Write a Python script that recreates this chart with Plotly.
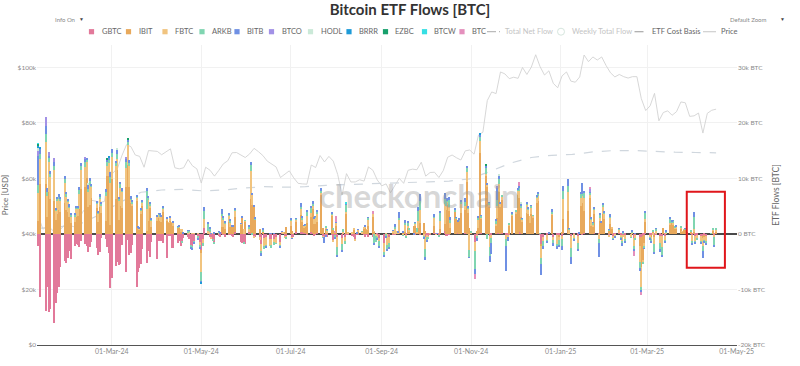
import pandas as pd
import plotly.graph_objects as go

# ---------------- data (flows in thousands of BTC, prices in thousands of USD) ----------------
HOLIDAYS = ["2024-01-15", "2024-02-19", "2024-03-29", "2024-05-27", "2024-06-19", "2024-07-04",
            "2024-09-02", "2024-11-28", "2024-12-25", "2025-01-01", "2025-01-09", "2025-01-20",
            "2025-02-17"]
FIRST_DAY, LAST_DAY = "2024-01-11", "2025-04-17"

FUNDS = ["GBTC", "IBIT", "FBTC", "ARKB", "BITB", "BTCO", "HODL", "BRRR", "EZBC", "BTCW", "BTC"]
COLORS = {"GBTC": "#e2799a", "IBIT": "#e8a95c", "FBTC": "#f1c47f", "ARKB": "#80d5b1",
          "BITB": "#6f90e4", "BTCO": "#a291e6", "HODL": "#cbe9d8", "BRRR": "#1e9bd8",
          "EZBC": "#18a06c", "BTCW": "#36dfe4", "BTC": "#e490bd"}

GBTC = {
    "2024-01": [-2.2, -11.3, -13.8, -9.5, -14.0, -13.6, -16.1, -12.4, -10.7, -9.6, -6.0, -4.8, -5.2, -4.4],
    "2024-02": [-3.0, -4.5, -2.1, -1.8, -2.0, -2.4, -1.2, -1.9, -2.1, -3.2, -2.3, -1.4, -2.5, -3.8, -3.2, -0.8, -0.9, -2.4, -3.4, -9.7],
    "2024-03": [-8.0, -5.7, -5.1, -5.6, -5.5, -2.0, -6.8, -1.1, -3.8, -3.5, -2.0, -9.5, -6.8, -6.1, -5.4, -2.7, -5.3, -3.0, -4.2, -1.5],
    "2024-04": [-4.5, -1.2, -1.1, -1.2, -1.6, -4.3, -0.3, -0.3, -2.6, -2.5, -1.7, -1.2, -2.1, -1.4, -0.7, -0.5, -1.0, -2.0, -2.2, -1.3, -0.4, -1.5],
    "2024-05": [-2.9, -0.9, 1.0, 0.0, -0.5, -0.7, -1.0, -1.5, -0.4, -0.6, 0.4, -0.1, -0.5, -0.2, -0.2, -0.3, -0.6, 0.4, -1.4, -1.6, -1.6, -1.8],
    "2024-06": [0.4, 0.1, 0.2, -0.5, -0.5, -0.6, -1.8, 0.0, -0.7, -0.6, -0.9, -1.0, -0.9, -0.5, -1.4, 0.2, 0.0, -0.3, -0.5],
    "2024-07": [0.0, -0.6, -0.5, 0.3, 0.4, 0.3, 0.2, 0.1, -0.1, 0.4, 0.1, -0.3, -0.1, 0.1, 0.0, -0.5, -0.5, -0.3, -0.5, -0.1, -1.1, -0.2],
    "2024-08": [0.0, -0.6, -0.8, 0.0, -0.5, -0.1, -0.1, -0.4, -0.5, -0.9, -0.1, -0.2, 0.0, -0.1, -0.6, -0.2, -0.6, -0.6, 0.0, 0.0, -0.3, -0.8],
    "2024-09": [-1.7, -0.1, 0.0, -0.5, -0.1, -0.1, 0.0, 0.0, 0.2, -0.1, 0.0, -0.2, 0.0, 0.0, 0.0, -0.2, 0.0, 0.0, -0.1, -0.1],
    "2024-10": [-0.6, -0.2, -0.3, -0.1, 0.1, -0.1, 0.0, -0.2, 0.0, 0.6, -0.3, -0.3, -0.1, 0.0, 0.0, 0.0, 0.1, 0.0, 0.0, 0.1, 0.0, 0.1, 0.0],
    "2024-11": [0.0, -1.5, -0.2, 0.0, 0.1, 0.1, 0.0, 0.0, 0.0, -0.3, -0.2, 0.0, 0.2, 0.2, 0.0, 0.1, -0.2, -0.2, -0.1, 0.0],
    "2024-12": [0.0, 0.0, 0.4, 0.1, 0.0, 0.0, 0.0, 0.0, 0.0, 0.0, 0.0, 0.0, -0.2, -1.9, -0.5, -0.2, 0.0, 0.0, -0.6, -0.2, -0.3],
    "2025-01": [-0.4, 0.1, 0.0, 0.0, -0.4, -0.1, -0.3, 0.0, 0.0, -0.2, 0.2, 0.0, 0.0, 0.0, 0.2, -0.1, 0.0, 0.0, 0.0, 0.0],
    "2025-02": [-0.2, 0.2, 0.0, -0.3, -0.1, 0.2, -0.2, -0.3, -0.2, -0.2, 0.0, 0.0, -0.7, -0.2, -0.5, -0.6, -0.3, -0.2, 0.2],
    "2025-03": [-0.2, -0.3, 0.0, -0.3, -0.2, -0.3, -0.4, 0.0, -0.3, 0.0, 0.0, 0.0, 0.0, 0.0, 0.0, 0.0, 0.0, 0.0, 0.0, -0.2, 0.0],
    "2025-04": [-0.2, 0.0, -0.3, -0.2, -0.4, -0.5, -0.3, -0.4, 0.0, 0.0, 0.0, -0.2, 0.0],
}
IBIT = {
    "2024-01": [2.4, 8.9, 9.0, 3.0, 7.5, 6.2, 6.0, 2.5, 3.5, 4.3, 4.0, 5.6, 4.3, 3.9],
    "2024-02": [3.0, 2.0, 2.1, 3.0, 3.2, 4.5, 8.0, 8.5, 10.0, 4.8, 5.2, 6.4, 4.6, 2.2, 4.8, 3.7, 2.4, 10.4, 10.5, 1.6],
    "2024-03": [9.8, 6.2, 11.5, 2.5, 5.0, 4.6, 8.5, 12.4, 8.5, 5.6, 5.0, 6.0, 1.1, 0.8, 3.5, 5.0, 0.5, 2.4, 4.7, 1.3],
    "2024-04": [2.4, 2.8, 2.3, 2.1, 4.0, 2.3, 2.0, 2.3, 2.0, 1.5, 1.1, 1.2, 0.3, 0.4, 0.0, 0.0, 0.0, 0.0, 0.0, 0.0, 0.0, 0.0],
    "2024-05": [-0.6, 0.0, 0.0, 0.0, 0.0, 0.0, 0.0, 0.0, 0.0, 0.0, 0.9, 1.3, 0.9, 2.2, 1.3, 1.3, 1.3, 2.7, 1.6, 3.0, 0.0, 2.3],
    "2024-06": [0.0, 6.2, 5.0, 5.0, 2.5, 0.9, 0.0, 0.4, 0.0, 0.0, 0.0, 0.0, 0.0, 0.0, 0.0, 0.0, 0.0, 0.3, 1.3],
    "2024-07": [1.5, 0.5, 0.0, 2.0, 3.0, 1.8, 1.0, 1.2, 2.0, 2.7, 4.4, 1.8, 1.7, 2.0, 7.0, 1.1, 0.0, 1.0, 0.3, 3.3, 0.8, 0.3],
    "2024-08": [1.5, 0.0, 0.0, 0.0, 0.0, 3.5, 0.0, 0.0, 0.7, 0.0, 0.0, 0.4, 0.0, 0.9, 1.0, 0.7, 1.4, 3.0, 0.4, 0.0, 0.0, 0.0],
    "2024-09": [0.0, 0.0, 0.0, 0.0, 0.3, 0.0, 0.0, 0.0, 0.0, 0.3, 0.3, 0.0, 1.0, 0.4, 1.5, 1.5, 0.3, 1.0, 2.0, 1.9],
    "2024-10": [0.6, 0.0, 0.0, 0.0, 1.3, 0.0, 0.0, 0.0, 0.9, 1.2, 4.3, 5.2, 4.1, 1.1, 4.1, 2.8, 2.2, 2.4, 3.7, 4.2, 9.3, 3.6, 1.1],
    "2024-11": [0.0, 0.0, 0.5, 1.0, 14.5, 2.5, 10.5, 8.5, 5.0, 0.0, 0.0, 1.5, 2.6, 7.3, 5.0, 6.0, 0.0, 0.0, 1.5, 3.3],
    "2024-12": [3.5, 7.0, 6.0, 3.0, 2.2, 3.7, 3.5, 2.0, 3.5, 3.0, 5.5, 6.0, 0.0, -0.3, 0.0, 0.0, 0.0, 3.5, 0.0, 0.0, -0.3],
    "2025-01": [0.4, 2.5, 4.1, 0.0, 0.0, 0.0, 0.0, 0.0, 5.0, 5.5, 4.0, 6.5, 1.5, 1.2, 3.4, 0.0, 2.3, 2.1, 3.5, 2.6],
    "2025-02": [0.6, 1.5, 1.0, 0.0, 0.0, 0.0, 0.0, 0.0, 0.0, 0.0, 0.0, 0.0, 0.0, 0.0, -1.7, -5.4, -4.4, -1.5, 2.0],
    "2025-03": [0.0, -0.2, 0.5, -0.3, 0.0, 0.0, 0.0, 1.0, 0.0, 0.0, 1.6, 2.0, 1.7, 1.0, 0.8, 1.0, 0.4, 0.7, 0.8, 0.2, 0.5],
    "2025-04": [0.0, 0.5, 0.0, 0.0, 0.0, -0.3, -0.3, 0.0, 0.0, 0.0, 0.6, 0.0, 0.3],
}
FBTC = {
    "2024-01": [5.0, 4.5, 7.5, 3.9, 5.5, 4.0, 5.5, 1.7, 2.5, 2.0, 2.0, 3.5, 2.5, 1.9],
    "2024-02": [1.6, 1.2, 1.0, 1.5, 1.2, 2.7, 3.5, 3.6, 3.0, 2.7, 3.6, 2.1, 0.7, 1.4, 1.4, 1.3, 4.4, 1.8, 2.3, 7.5],
    "2024-03": [4.0, 6.0, 2.0, 3.4, 3.2, 3.0, 3.3, 3.6, 3.8, 0.5, 0.5, 0.6, 0.0, 0.1, 0.7, 0.7, 4.0, 3.8, 0.4, 1.1],
    "2024-04": [0.7, 0.6, 0.9, 1.0, 0.6, 0.4, 0.1, 0.6, 0.1, 0.6, 0.1, 0.1, 0.5, 0.5, 0.1, 0.3, 0.4, 0.0, 0.1, 0.1, 0.1, -0.5],
    "2024-05": [-3.3, -0.8, 1.6, 0.5, 0.4, -0.3, 0.1, 0.1, 0.2, 0.1, 1.9, 1.3, 0.9, 1.1, 0.6, 0.1, 0.0, 1.1, 0.2, 0.0, 0.8, 0.1],
    "2024-06": [0.6, 5.1, 1.9, -0.1, 0.0, -0.5, -1.2, 0.0, -1.5, -1.4, -1.3, -1.0, -0.5, -1.2, -0.6, 0.2, 0.2, -0.4, -0.1],
    "2024-07": [0.9, -0.2, 0.1, 0.2, 1.0, 0.5, 0.3, 0.2, 1.3, 0.6, 0.6, 0.9, 1.2, 1.6, 0.4, -0.1, 0.0, 0.1, 0.3, 0.2, -0.3, 0.0],
    "2024-08": [0.5, -1.7, -1.0, 0.3, -0.8, 0.5, 0.2, 0.3, 0.2, -0.4, 0.0, 0.3, 0.4, 0.3, 0.4, 0.1, 1.2, 0.5, 0.1, -0.4, -0.3, -0.4],
    "2024-09": [-1.5, 0.1, -2.0, -1.2, 0.3, 1.0, 0.6, 0.3, 2.3, -0.1, 1.4, -0.1, 0.4, 0.3, 0.0, 0.3, 0.1, 1.4, 2.3, -0.4],
    "2024-10": [-2.1, -0.3, -0.4, 0.1, 1.5, -0.1, 0.0, -0.1, 1.5, 3.6, 0.8, 0.6, 0.8, 0.9, 0.0, 0.0, 0.0, 0.0, 1.6, 0.7, 1.9, 0.7, -2.9],
    "2024-11": [0.3, -1.6, -0.2, 1.5, 2.2, 0.4, 0.3, 0.3, 0.2, -2.0, -0.5, 0.3, 2.3, 1.5, 0.3, 0.5, -0.8, -0.3, 0.2, 0.2],
    "2024-12": [0.5, 0.8, 1.3, 1.5, 0.4, 1.5, 0.8, 1.2, 1.2, 0.3, 1.0, 0.8, 0.0, -2.2, -0.8, -1.0, 0.1, 0.2, -0.5, -1.6, -0.5],
    "2025-01": [-0.5, 3.6, 3.5, 0.7, -2.2, -0.7, -1.3, 0.0, 1.4, 1.3, 2.2, 0.5, 1.0, 0.5, 0.7, -0.9, 0.5, 0.0, 1.5, 0.9],
    "2025-02": [-0.2, 1.2, 0.2, -0.5, -0.4, 0.6, -0.4, -1.0, -0.3, -0.8, -0.6, 0.3, -1.5, -0.6, -2.8, -3.6, -0.4, -0.5, 0.4],
    "2025-03": [-0.3, -0.5, -0.2, -1.2, 0.6, -1.3, -1.9, 0.0, -0.8, 0.3, 0.4, 0.1, 0.3, 0.2, 0.5, 0.2, 0.1, 0.1, 0.0, -0.6, 0.0],
    "2025-04": [-1.0, 0.3, -0.9, -0.6, -0.9, -1.4, -0.5, -0.8, 0.0, 0.0, 0.2, -0.3, 0.5],
}
ARKB = {
    "2024-01": [1.4, 1.0, 1.5, 0.7, 0.6, 0.5, 0.8, 0.2, 0.3, 0.4, 0.4, 0.8, 0.3, 0.2],
    "2024-02": [0.4, 0.2, 0.3, 0.3, 0.4, 0.7, 0.7, 0.9, 0.4, 0.6, 0.7, 0.2, 0.4, 0.3, 0.5, 0.4, 0.7, 0.7, 0.5, 1.2],
    "2024-03": [0.8, 0.6, 0.9, 0.5, 0.7, 0.2, 1.2, 0.6, 0.4, 0.2, 0.3, 0.2, 0.1, 0.1, 0.2, 0.1, 3.3, 0.3, 0.3, 0.2],
    "2024-04": [0.1, 0.2, 0.3, 0.1, 0.2, 0.1, 0.0, 0.1, 0.0, 0.0, 0.1, 0.1, 0.0, -0.2, 0.0, 0.3, 0.2, -0.5, -0.5, -0.3, -0.5, -0.5],
    "2024-05": [-1.7, -0.5, 1.5, 1.2, 0.5, 0.0, -0.2, -0.2, 0.2, 0.0, 0.4, 0.3, 0.3, 0.2, 0.5, 0.0, 0.1, 0.2, 0.0, 0.0, -0.1, 0.1],
    "2024-06": [0.2, 1.0, -0.1, 0.0, 0.3, 0.0, -0.6, 0.4, -0.6, -0.3, 0.0, -0.5, -0.6, -0.1, -0.3, 0.0, 0.0, 0.0, -0.2],
    "2024-07": [0.2, 0.0, 0.0, 0.2, 0.5, 0.3, 0.0, 0.1, 0.8, 0.9, 0.3, 0.1, 0.2, 0.3, 0.3, -0.1, 0.0, 0.2, 0.1, 0.1, 0.2, -0.5],
    "2024-08": [0.1, -1.5, -1.2, 0.5, -0.6, 1.2, 0.0, 0.0, 0.0, 0.0, 0.0, 0.0, 0.1, 0.0, 0.0, 0.0, 0.3, 0.0, -1.7, -1.0, -0.3, -0.9],
    "2024-09": [-0.6, -0.4, -0.8, -0.8, 0.0, 0.2, 0.0, 0.0, 0.4, -0.1, 0.3, -0.4, 0.7, 0.4, 0.0, 0.2, 0.6, 1.8, 1.7, -0.2],
    "2024-10": [-1.5, -0.6, -0.2, 0.0, 0.2, 0.0, 0.0, -0.3, 1.3, 0.9, 0.9, 0.2, 1.2, 0.5, 0.2, 0.1, 0.0, 0.2, 0.4, 0.8, 0.6, 0.4, -1.3],
    "2024-11": [0.2, -3.2, -0.5, 0.4, 0.7, 0.3, 1.0, -1.0, 0.4, -1.7, -1.0, 0.6, 1.0, 0.9, 0.0, 0.4, -1.2, 0.0, 0.3, 0.1],
    "2024-12": [0.2, 0.2, 0.7, 0.5, 0.1, 0.2, 0.3, 0.0, 0.4, 0.1, 0.2, 0.4, 0.1, -1.1, -0.9, -0.1, 0.0, 0.2, -0.6, -0.4, -0.9],
    "2025-01": [-1.2, 1.5, 1.0, 0.2, -1.6, -0.2, -1.2, 0.1, 0.9, 0.4, 0.9, 0.4, 0.3, 0.3, 0.3, -0.7, 0.6, 0.0, 0.3, 0.4],
    "2025-02": [0.1, 0.3, 0.0, -0.2, 0.0, 0.1, -0.3, -0.5, 0.3, -0.4, -0.1, 0.2, -0.6, -0.2, -1.2, -0.5, -0.4, -0.4, 1.3],
    "2025-03": [-0.4, -0.4, 0.1, -1.5, 0.3, -1.2, -1.5, 0.0, -0.3, 0.2, 0.8, 0.2, 0.4, 0.1, 0.1, 0.1, 0.0, 0.0, 0.1, -0.2, 0.1],
    "2025-04": [-0.5, 2.2, -0.4, -0.2, -0.3, -0.8, -0.3, -0.6, 0.0, 0.1, 0.1, -1.6, 0.1],
}
BITB = {
    "2024-01": [5.2, 0.9, 1.5, 0.6, 0.5, 0.6, 0.6, 0.2, 0.3, 0.4, 0.3, 0.6, 0.4, 0.3],
    "2024-02": [0.3, 0.2, 0.3, 0.2, 0.3, 0.6, 0.5, 0.6, 0.3, 0.8, 0.5, 0.3, 0.3, 0.2, 0.4, 0.2, 0.5, 0.5, 0.4, 0.8],
    "2024-03": [0.6, 0.4, 0.8, 0.3, 0.4, 0.5, 0.4, 0.4, 0.6, 0.5, 0.2, 0.1, 0.1, 0.1, 0.3, 0.2, 0.4, 0.2, 0.3, 0.1],
    "2024-04": [0.1, 0.1, 0.1, 0.1, 0.2, 0.1, 0.0, 0.1, 0.0, 0.1, 0.1, 0.1, 0.0, 0.0, 0.1, 0.1, 0.1, -0.2, -0.1, -0.1, -0.1, -0.3],
    "2024-05": [-0.3, 0.0, 0.8, 0.5, 0.3, 0.1, 0.0, 0.1, 0.1, 0.1, 0.9, 0.4, 0.2, 0.3, 0.3, 0.1, 0.2, 0.3, 0.1, 0.1, 0.0, 0.0],
    "2024-06": [0.4, 0.6, 0.3, 0.1, 0.1, 0.0, -0.3, 0.2, 0.0, -0.2, 0.1, 0.1, 0.1, 0.0, -0.1, 0.1, 0.0, 0.0, 0.0],
    "2024-07": [0.1, -0.1, 0.0, 0.1, 0.6, 0.2, 0.1, 0.1, 0.2, 0.5, 0.5, 0.2, 0.1, 0.3, 0.5, 0.0, -1.2, -0.3, 0.1, 0.2, 0.0, -0.1],
    "2024-08": [0.1, -0.3, -0.2, 0.0, 0.0, 0.2, 0.0, 0.0, 0.0, 0.0, 0.2, 0.1, 0.0, 0.0, 0.2, 0.0, 0.1, 0.0, -0.3, 0.0, -0.2, -0.4],
    "2024-09": [-0.4, -0.1, -0.2, -0.3, 0.1, 0.5, 0.0, 0.3, 1.0, 0.2, 0.5, 0.0, 0.3, 0.0, -0.2, 0.1, 0.0, 0.6, 1.1, -0.3],
    "2024-10": [-0.5, -0.3, 0.0, 0.0, 0.4, 0.0, 0.1, 0.0, 0.4, 1.0, 0.0, 0.4, 0.5, 0.6, 0.4, 0.1, 0.2, 0.2, 0.4, 0.6, 0.5, 0.2, -0.1],
    "2024-11": [0.0, -1.0, -0.3, 0.2, 0.3, 0.1, 0.5, 0.2, 0.1, -1.0, -2.0, 0.3, 2.2, 0.5, 0.4, 0.0, -4.5, -0.8, 0.0, 0.4],
    "2024-12": [0.0, 0.1, 0.3, 0.4, 0.1, 0.3, 0.1, 0.0, 0.1, 0.0, 0.2, 0.2, 0.0, -1.9, -0.6, -0.4, 0.1, 0.6, -0.5, -0.6, -0.2],
    "2025-01": [-0.8, 1.0, 1.3, 0.1, -1.3, -0.2, -0.3, 0.1, 0.3, 2.0, 0.5, 0.3, 0.2, 0.1, 0.2, -2.5, 0.2, 0.1, 0.2, 0.2],
    "2025-02": [0.1, 0.3, 0.0, -0.1, -0.2, 0.1, -0.1, -0.3, 0.1, -0.3, 0.0, 0.1, -0.2, 0.1, -0.4, -0.3, 0.0, -0.1, 0.2],
    "2025-03": [-0.1, -0.2, 0.0, -0.3, 0.1, -0.5, -0.4, 0.0, -0.2, 0.1, 0.2, 0.1, 0.1, 0.0, 0.1, 0.0, 0.0, 0.0, 0.1, -0.1, 0.0],
    "2025-04": [-0.3, 1.0, -0.2, 0.0, -0.1, -1.4, -0.1, -0.2, 0.0, 0.0, 0.0, -0.2, 0.0],
}
# smaller funds: only the days with visible flows
BTCO = {"2024-01-11": 1.0, "2024-01-16": 1.5, "2024-01-18": 0.6, "2024-01-22": 0.8, "2024-02-12": 0.3,
        "2024-03-11": 0.5, "2024-11-19": 0.3, "2025-01-21": 0.3}
HODL = {"2024-01-11": 0.4, "2024-02-14": 0.2, "2024-03-05": 0.3, "2024-11-20": 0.4, "2024-12-05": 0.3}
BRRR = {"2024-01-11": 0.5, "2024-01-12": 0.3, "2024-02-28": 0.3, "2024-05-01": -0.3, "2024-11-07": 0.2}
EZBC = {"2024-01-11": 0.3, "2024-02-27": 0.2, "2024-03-12": 0.3, "2024-11-11": 0.2}
BTCW = {"2024-01-11": 0.1, "2024-08-08": 0.2}
BTC = {"2024-07-31": 0.3, "2024-08-01": 1.0, "2024-08-26": 0.6, "2024-11-04": -0.8, "2024-12-04": 0.6,
       "2025-01-21": 0.5, "2025-02-20": -0.9, "2025-02-25": -0.6}

# BTC price ($k), every third day from 2024-01-11
PRICE_START = "2024-01-11"
PRICE = [46.3, 41.7, 42.7, 41.7, 39.9, 41.8, 43.3,
         43.1, 42.6, 44.3, 47.8, 49.7, 52.1, 51.8, 51.3, 51.7, 62.4,
         62.0, 63.8, 68.3, 72.1, 71.4, 68.4, 67.9, 64.0, 70.0, 69.9,
         69.7, 68.5, 69.4, 70.6, 63.8, 63.4, 63.8, 66.8, 64.5, 63.4,
         58.3, 64.0, 62.9, 60.8, 62.9, 65.2, 66.3, 69.2, 69.3, 68.4, 67.5,
         68.8, 70.8, 69.6, 68.2, 66.2, 65.1, 64.1, 60.3, 61.6, 62.7,
         60.2, 58.2, 58.0, 57.9, 64.8, 63.9, 68.2, 65.9, 67.9, 66.2,
         61.4, 54.0, 61.7, 58.7, 58.7, 59.5, 59.0, 64.1, 62.9, 59.4,
         57.3, 58.0, 54.8, 57.6, 60.0, 58.2, 62.9, 63.3, 63.1, 65.8,
         60.8, 62.1, 62.2, 60.3, 62.8, 67.6, 68.4, 67.4, 66.6, 69.9, 70.2,
         68.7, 75.6, 76.6, 88.0, 91.1, 90.5, 98.3, 97.6, 95.9, 96.4,
         96.0, 99.9, 97.4, 100.0, 104.5, 100.2, 97.2, 98.7, 94.2, 92.6,
         96.9, 98.3, 95.0, 94.6, 96.5, 104.4, 102.0, 103.7, 102.6, 103.7,
         100.6, 98.0, 96.5, 97.4, 96.6, 96.1, 96.6, 96.6, 88.7, 84.4,
         86.1, 90.6, 80.7, 83.7, 84.3, 82.7, 84.0, 87.5, 87.2, 82.3,
         82.5, 83.5, 76.3, 83.4, 84.5, 84.9]

# ETF cost basis ($k), every 14 days from 2024-01-11
COST_START = "2024-01-11"
COST_BASIS = [42.0, 42.5, 43.5, 47.0, 51.5, 55.0, 55.8, 56.0, 55.5, 55.8, 56.5, 57.0, 56.8, 57.0,
              57.5, 57.8, 58.0, 58.3, 58.5, 58.7, 59.0, 59.8, 62.5, 65.5, 67.5, 68.3, 68.6, 69.5,
              70.0, 70.0, 69.6, 69.4, 69.3, 69.2]

PRICE_TICKS = [0, 20, 40, 60, 80, 100]
PRICE_TICKTEXT = ["$0", "$20k", "$40k", "$60k", "$80k", "$100k"]
FLOW_TICKS = [-20, -10, 0, 10, 20, 30]
FLOW_TICKTEXT = ["-20k BTC", "-10k BTC", "0 BTC", "10k BTC", "20k BTC", "30k BTC"]

# ---------------- build series ----------------
TD = pd.bdate_range(FIRST_DAY, LAST_DAY, freq="C", holidays=HOLIDAYS)
months = TD.strftime("%Y-%m")


def expand_monthly(monthly):
    out = []
    for m in pd.unique(months):
        n = int((months == m).sum())
        vals = list(monthly.get(m, []))
        out.extend((vals + [0.0] * n)[:n])
    return pd.Series(out, index=TD)


def expand_sparse(d):
    s = pd.Series(0.0, index=TD)
    for k, v in d.items():
        s[pd.Timestamp(k)] = v
    return s


SERIES = {"GBTC": expand_monthly(GBTC), "IBIT": expand_monthly(IBIT), "FBTC": expand_monthly(FBTC),
          "ARKB": expand_monthly(ARKB), "BITB": expand_monthly(BITB), "BTCO": expand_sparse(BTCO),
          "HODL": expand_sparse(HODL), "BRRR": expand_sparse(BRRR), "EZBC": expand_sparse(EZBC),
          "BTCW": expand_sparse(BTCW), "BTC": expand_sparse(BTC)}
total = sum(SERIES.values())
weekly = total.resample("W-FRI").sum()
price_x = pd.date_range(PRICE_START, periods=len(PRICE), freq="3D")
cost_x = pd.date_range(COST_START, periods=len(COST_BASIS), freq="14D")

# ---------------- figure ----------------
L, T, W, H = 37, 45, 700, 300  # plot box in px


def px(x):
    return (x - L) / W


def py(y):
    return (T + H - y) / H


fig = go.Figure()
fig.add_trace(go.Scatter(x=price_x, y=PRICE, name="Price", mode="lines",
                         line=dict(color="#d2d2d2", width=0.9), yaxis="y"))
fig.add_trace(go.Scatter(x=cost_x, y=COST_BASIS, name="ETF Cost Basis", mode="lines",
                         line=dict(color="#d0d7de", width=1.2, dash="dash"), yaxis="y"))
for f in FUNDS:
    fig.add_trace(go.Bar(x=TD, y=SERIES[f].values, name=f, yaxis="y2",
                         marker=dict(color=COLORS[f], line=dict(width=0))))
fig.add_trace(go.Scatter(x=TD, y=total.values, name="Total Net Flow", visible="legendonly",
                         yaxis="y2", line=dict(color="#888", dash="dashdot", width=1)))
fig.add_trace(go.Scatter(x=weekly.index, y=weekly.values, name="Weekly Total Flow", mode="markers",
                         visible="legendonly", yaxis="y2",
                         marker=dict(symbol="circle-open", color="#9fd3b8", size=7)))

# manual one-row legend (same look as the original)
LEGEND = [("GBTC", "sq", 91.5), ("IBIT", "sq", 128.5), ("FBTC", "sq", 165), ("ARKB", "sq", 202),
          ("BITB", "sq", 237), ("BTCO", "sq", 271.5), ("HODL", "sq", 310.5), ("BRRR", "sq", 349),
          ("EZBC", "sq", 385.5), ("BTCW", "sq", 424.5), ("BTC", "sq", 462),
          ("Total Net Flow", "dashdot", 493.5), ("Weekly Total Flow", "circle", 561),
          ("ETF Cost Basis", "dash", 641), ("Price", "line", 709.5)]
LY = 31.7
shapes, annotations = [], []
for name, kind, cx in LEGEND:
    faded = name in ("Total Net Flow", "Weekly Total Flow")
    tcol = "#c4c4c4" if faded else "#666"
    if kind == "sq":
        shapes.append(dict(type="rect", xref="paper", yref="paper", x0=px(cx - 2.6), x1=px(cx + 2.6),
                           y0=py(LY + 2.6), y1=py(LY - 2.6), fillcolor=COLORS[name], line=dict(width=0)))
        tx = cx + 8
    elif kind == "circle":
        shapes.append(dict(type="circle", xref="paper", yref="paper", x0=px(cx - 3.5), x1=px(cx + 3.5),
                           y0=py(LY + 3.5), y1=py(LY - 3.5), line=dict(color="#d6e6de", width=1)))
        tx = cx + 9
    else:
        dash = {"dashdot": "dashdot", "dash": "dash", "line": "solid"}[kind]
        col = {"dashdot": "#bbbbbb", "dash": "#a9a9a9", "line": "#cfcfcf"}[kind]
        shapes.append(dict(type="line", xref="paper", yref="paper", x0=px(cx - 6.5), x1=px(cx + 6.5),
                           y0=py(LY), y1=py(LY), line=dict(color=col, width=1.2, dash=dash)))
        tx = cx + 9
    annotations.append(dict(text=name, xref="paper", yref="paper", x=px(tx), y=py(LY),
                            xanchor="left", yanchor="middle", showarrow=False,
                            font=dict(size=7.5, color=tcol)))

# the two selector labels above the chart
for label, lx, ax in (("Info On", 53, 81), ("Default Zoom", 728, 783)):
    annotations.append(dict(text=label, xref="paper", yref="paper", x=px(lx), y=py(19),
                            xanchor="left", yanchor="middle", showarrow=False,
                            font=dict(size=6, color="#888")))
    annotations.append(dict(text="▼", xref="paper", yref="paper", x=px(ax), y=py(19),
                            xanchor="center", yanchor="middle", showarrow=False,
                            font=dict(size=5, color="#444")))

# watermark
annotations.append(dict(text="<b>checkonchain</b>", xref="paper", yref="paper", x=px(419), y=py(195),
                        xanchor="center", yanchor="middle", showarrow=False,
                        font=dict(size=33, color="rgba(150,150,150,0.38)", family="Lato, sans-serif")))

# red highlight box
shapes.append(dict(type="rect", xref="x", yref="y2", x0="2025-03-28", x1="2025-04-23", y0=-6.1, y1=7.6,
                   line=dict(color="#e0161b", width=2), fillcolor="rgba(0,0,0,0)", layer="above"))

fig.update_layout(
    width=800, height=366,
    margin=dict(l=L, r=800 - L - W, t=T, b=366 - T - H, pad=0, autoexpand=False),
    paper_bgcolor="white", plot_bgcolor="white",
    barmode="relative", bargap=0.0,
    showlegend=False,
    font=dict(family="Lato, sans-serif", color="#777", size=8),
    title=dict(text="<b>Bitcoin ETF Flows [BTC]</b>", xref="container", x=410 / 800, xanchor="center",
               yref="container", y=1 - 10 / 366, yanchor="middle",
               font=dict(size=15, color="#333", family="Lato, sans-serif")),
    xaxis=dict(type="date", range=["2024-01-10", "2025-05-01 06:00"], tick0="2024-03-01", dtick="M2",
               tickformat="%d-%b-%y", showgrid=True, gridcolor="#f1f1f1", gridwidth=1,
               showline=True, linecolor="#555", linewidth=1, ticks="", zeroline=False,
               tickfont=dict(size=7, color="#8a8a8a"), automargin=False),
    yaxis=dict(range=[0, 108], tickvals=PRICE_TICKS, ticktext=PRICE_TICKTEXT, showgrid=True,
               gridcolor="#f1f1f1", zeroline=False, ticks="", tickfont=dict(size=6.5, color="#8a8a8a"),
               title=dict(text="Price [USD]", font=dict(size=8, color="#666"), standoff=8),
               automargin=False),
    yaxis2=dict(overlaying="y", side="right", range=[-20, 34], tickvals=FLOW_TICKS,
                ticktext=FLOW_TICKTEXT, showgrid=False, zeroline=True, zerolinecolor="#4a4a4a",
                zerolinewidth=2, ticks="", tickfont=dict(size=6.5, color="#8a8a8a"),
                title=dict(text="ETF Flows [BTC]", font=dict(size=8.5, color="#666"), standoff=8),
                automargin=False),
    shapes=shapes,
    annotations=annotations,
)

fig.write_html("out.html")
